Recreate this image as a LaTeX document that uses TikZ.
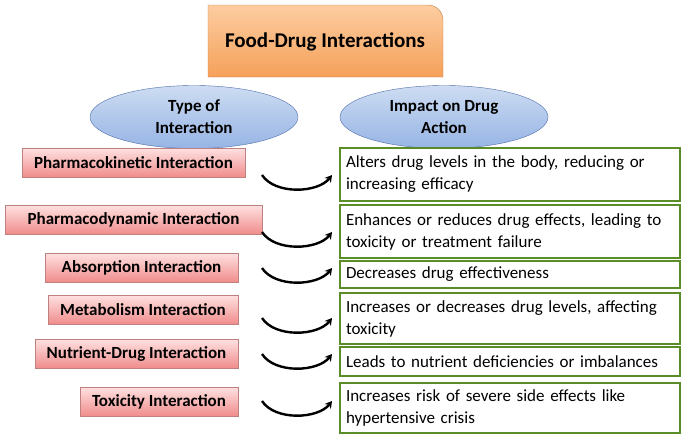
\documentclass[tikz,border=0pt]{standalone}
\usepackage{fontspec}
\setmainfont{Carlito}
\usetikzlibrary{shapes.geometric,arrows.meta}
\definecolor{ea}{RGB}{205,220,242}
\definecolor{eb}{RGB}{150,180,228}
\definecolor{eline}{RGB}{80,110,170}
\definecolor{oa}{RGB}{252,205,160}
\definecolor{ob}{RGB}{245,160,90}
\definecolor{ra}{RGB}{255,225,225}
\definecolor{rb}{RGB}{240,140,140}
\definecolor{gline}{RGB}{90,140,40}
\begin{document}
\begin{tikzpicture}[x=1pt,y=-1pt,
 lbox/.style={draw=red!50!black!50,top color=ra,bottom color=rb,font=\bfseries\fontsize{17}{19}\selectfont,inner sep=0pt},
 rbox/.style={draw=gline,line width=1.6pt,fill=white,font=\fontsize{17}{22}\selectfont,align=left,inner sep=0pt,inner xsep=6pt},
 ell/.style={ellipse,draw=eline,top color=ea,bottom color=eb,minimum width=208pt,minimum height=63pt,align=center,font=\bfseries\fontsize{17}{22}\selectfont},
 arc/.style={line width=2.4pt,-{Stealth[length=7pt,width=8pt]}}]
\useasboundingbox (0,0) rectangle (685,437);
\path[draw=ob!80!black,top color=oa,bottom color=ob] (208,77) -- (208,5) -- (428,5) to[out=0,in=90] (443,20) -- (443,77) -- cycle;
\node[font=\bfseries\fontsize{21}{24}\selectfont] (t) at (325,42) {Food-Drug Interactions};
\node[ell] (e1) at (194,117) {Type of\\Interaction};
\node[ell] (e2) at (444,117) {Impact on Drug\\Action};
\foreach \i/\xa/\xb/\ya/\yb/\t in {1/22/245/148/177/Pharmacokinetic Interaction,2/5/262/205/234/Pharmacodynamic Interaction,3/45/238/253/282/Absorption Interaction,4/48/238/295/324/Metabolism Interaction,5/35/238/339/368/Nutrient-Drug Interaction,6/80/238/387/416/Toxicity Interaction}{
 \node[lbox,minimum width={\xb-\xa},minimum height={\yb-\ya}] (l\i) at ({(\xa+\xb)/2},{(\ya+\yb)/2}) {\t};}
\foreach \i/\ya/\yb/\t in {1/148/201/{Alters drug levels in the body, reducing or\\increasing efficacy},2/205/258/{Enhances or reduces drug effects, leading to\\toxicity or treatment failure},3/261/288/{Decreases drug effectiveness},4/293/344/{Increases or decreases drug levels, affecting\\toxicity},5/347/376/{Leads to nutrient deficiencies or imbalances},6/383/433/{Increases risk of severe side effects like\\hypertensive crisis}}{
 \node[rbox,minimum height={\yb-\ya},text width=328pt] (r\i) at (510,{(\ya+\yb)/2}) {\t};}
\foreach \i/\y in {1/175,2/232,3/268,4/318,5/354,6/401}{
 \coordinate (a\i) at (262,\y); \coordinate (b\i) at (332,\y);
 \draw[arc] (a\i) .. controls (275,\y+20) and (318,\y+18) .. (b\i);}
\end{tikzpicture}
\end{document}
